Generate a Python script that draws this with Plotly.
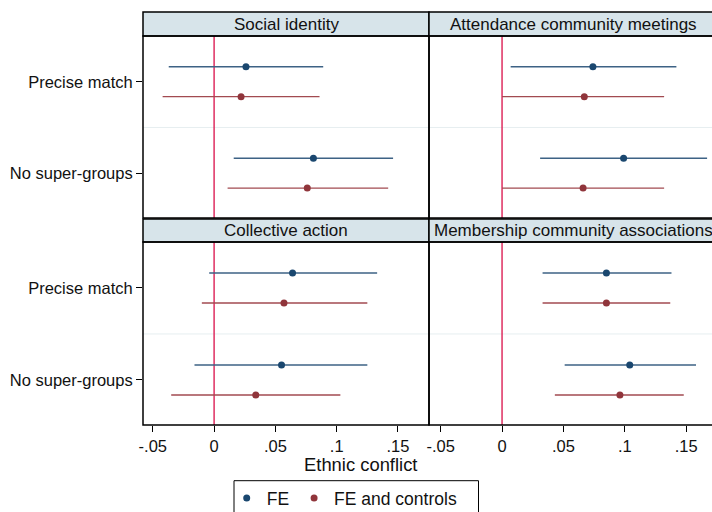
import plotly.graph_objects as go

# ---------------- data ----------------
panel_titles = ["Social identity", "Attendance community meetings",
                "Collective action", "Membership community associations"]
categories = ["Precise match", "No super-groups"]
x_tick_vals = [-0.05, 0, 0.05, 0.1, 0.15]
x_tick_text = ["-.05", "0", ".05", ".1", ".15"]
series_names = ["FE", "FE and controls"]

# per panel: [Precise match, No super-groups]
fe_est = [[0.026, 0.081], [0.074, 0.099], [0.064, 0.055], [0.085, 0.104]]
fe_lo = [[-0.037, 0.016], [0.007, 0.031], [-0.004, -0.016], [0.033, 0.051]]
fe_hi = [[0.089, 0.146], [0.142, 0.167], [0.133, 0.125], [0.138, 0.158]]
ctrl_est = [[0.022, 0.076], [0.067, 0.066], [0.057, 0.034], [0.085, 0.096]]
ctrl_lo = [[-0.042, 0.011], [0.000, 0.000], [-0.010, -0.035], [0.033, 0.043]]
ctrl_hi = [[0.086, 0.142], [0.132, 0.132], [0.125, 0.103], [0.137, 0.148]]

# ---------------- style ----------------
FONT = "Liberation Sans, Arial, sans-serif"
TXT = "#111111"
COL_FE = "#1a476f"
COL_CT = "#90353b"
CI_FE = "#3d6285"
CI_CT = "#a24a50"
STRIP = "#d7e4ea"
ZERO = "#dc1f55"
SEP = "#e6eef0"

W, H = 712, 512
ML, MR, MT, MB = 143, 0, 12, 87
PW, PH = W - ML - MR, H - MT - MB


def px_x(p):
    return (p - ML) / PW


def px_y(p):
    return (H - MB - p) / PH


XL = [0, px_x(429)]
XR = [px_x(429), 1]
YT = [px_y(218), px_y(36)]
YB = [0, px_y(242)]
HT = [px_y(36), 1.0]
HB = [px_y(242), px_y(219)]

x_ranges = [[-0.058, 0.1753], [-0.0595, 0.171]]
y_range = [2.49, 0.5]
offset = 0.163

panels = [  # (xdomain, ydomain, header ydomain, is_left, is_bottom)
    (XL, YT, HT, True, False),
    (XR, YT, HT, False, False),
    (XL, YB, HB, True, True),
    (XR, YB, HB, False, True),
]

fig = go.Figure()
shapes = []
annotations = []
layout_axes = {}

for i, (xd, yd, hd, is_left, is_bottom) in enumerate(panels):
    n = "" if i == 0 else str(i + 1)
    xa, ya = "x" + n, "y" + n
    for s, (est, lo, hi, col, cicol, off) in enumerate([
        (fe_est[i], fe_lo[i], fe_hi[i], COL_FE, CI_FE, -offset),
        (ctrl_est[i], ctrl_lo[i], ctrl_hi[i], COL_CT, CI_CT, offset),
    ]):
        yv = [k + 1 + off for k in range(len(categories))]
        fig.add_trace(go.Scatter(
            x=est, y=yv, mode="markers", name=series_names[s],
            xaxis=xa, yaxis=ya, showlegend=(i == 0),
            marker=dict(symbol="circle", size=7, color=col),
            error_x=dict(type="data", symmetric=False,
                         array=[h - e for h, e in zip(hi, est)],
                         arrayminus=[e - l for e, l in zip(est, lo)],
                         width=0, thickness=1.4, color=cicol),
        ))

    layout_axes["xaxis" + n] = dict(
        domain=xd, range=x_ranges[0 if is_left else 1], anchor=ya,
        showgrid=False, zeroline=False, showline=False,
        tickvals=x_tick_vals, ticktext=x_tick_text,
        showticklabels=is_bottom, ticks="outside" if is_bottom else "",
        ticklen=6, tickwidth=1, tickcolor="#000",
        tickfont=dict(size=16.5, color=TXT, family=FONT),
    )
    layout_axes["yaxis" + n] = dict(
        domain=yd, range=y_range, anchor=xa,
        showgrid=False, zeroline=False, showline=False,
        tickvals=[1, 2], ticktext=categories,
        showticklabels=is_left, ticks="outside" if is_left else "",
        ticklen=6, tickwidth=1, tickcolor="#000",
        tickfont=dict(size=16.5, color=TXT, family=FONT),
    )

    # separator between categories
    shapes.append(dict(type="line", xref=xa + " domain", yref=ya,
                       x0=0, x1=1, y0=1.5, y1=1.5,
                       line=dict(color=SEP, width=1), layer="below"))
    # zero reference line
    shapes.append(dict(type="line", xref=xa, yref=ya + " domain",
                       x0=0, x1=0, y0=0, y1=1,
                       line=dict(color=ZERO, width=1.4), layer="below"))
    x1 = xd[1] if is_left else 1.05
    # header strip
    shapes.append(dict(type="rect", xref="paper", yref="paper",
                       x0=xd[0], x1=x1, y0=hd[0], y1=hd[1],
                       fillcolor=STRIP, line=dict(color="#000", width=1.5),
                       layer="above"))
    # plot border
    shapes.append(dict(type="rect", xref="paper", yref="paper",
                       x0=xd[0], x1=x1, y0=yd[0], y1=yd[1],
                       line=dict(color="#000", width=1.5), layer="above"))
    cx = (xd[0] + xd[1]) / 2 if is_left else px_x(573)
    annotations.append(dict(text=panel_titles[i], xref="paper", yref="paper",
                            x=cx, y=(hd[0] + hd[1]) / 2, xanchor="center",
                            yanchor="middle", showarrow=False,
                            font=dict(size=17, color=TXT, family=FONT)))

annotations.append(dict(text="Ethnic conflict", xref="paper", yref="paper",
                        x=px_x(360), y=px_y(465), xanchor="center",
                        yanchor="middle", showarrow=False,
                        font=dict(size=18.4, color=TXT, family=FONT)))

# legend box
shapes.append(dict(type="rect", xref="paper", yref="paper",
                   x0=px_x(234), x1=px_x(478.5), y0=px_y(540), y1=px_y(480.7),
                   line=dict(color="#000", width=1), fillcolor="white",
                   layer="below"))

fig.update_layout(
    width=W, height=H, autosize=False,
    margin=dict(l=ML, r=MR, t=MT, b=MB, pad=0),
    paper_bgcolor="white", plot_bgcolor="white",
    font=dict(family=FONT, color=TXT),
    shapes=shapes, annotations=annotations,
    legend=dict(orientation="h", xref="container", yref="container",
                x=226.7 / W, xanchor="left",
                y=(H - 480) / H, yanchor="top", bgcolor="rgba(0,0,0,0)",
                borderwidth=0,
                font=dict(size=17.5, color=TXT, family=FONT)),
    **layout_axes,
)

fig.write_html("out.html", config={"displayModeBar": False},
               post_script="document.body.style.margin='0';"
                           "document.body.style.overflow='hidden';")
